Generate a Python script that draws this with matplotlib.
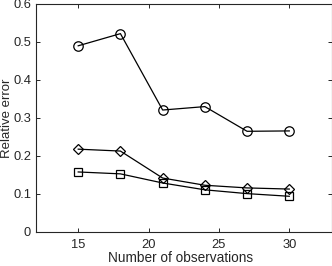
import matplotlib
matplotlib.use("Agg")
import matplotlib.pyplot as plt

x_obs = [15, 18, 21, 24, 27, 30]
err_circle = [0.490, 0.522, 0.321, 0.330, 0.265, 0.266]
err_diamond = [0.218, 0.213, 0.142, 0.123, 0.116, 0.113]
err_square = [0.158, 0.153, 0.129, 0.111, 0.101, 0.094]
xticks = [15, 20, 25, 30]
yticks = [0, 0.1, 0.2, 0.3, 0.4, 0.5, 0.6]
ytick_labels = ["0", "0.1", "0.2", "0.3", "0.4", "0.5", "0.6"]

plt.rcParams['font.family'] = ['Liberation Sans', 'DejaVu Sans']
fig = plt.figure(figsize=(3.32, 2.66), dpi=100)
ax = fig.add_axes([36/332, 1 - 232/266, (331.5-36)/332, (232-4)/266])

style = dict(color='black', lw=0.9, markerfacecolor='none', markeredgecolor='black',
             markeredgewidth=0.9)
ax.plot(x_obs, err_circle, marker='o', ms=6.8, **style)
ax.plot(x_obs, err_diamond, marker='D', ms=5.6, **style)
ax.plot(x_obs, err_square, marker='s', ms=5.8, **style)

ax.set_xlim(12, 33)
ax.set_ylim(0, 0.6)
ax.set_xticks(xticks)
ax.set_yticks(yticks)
ax.set_yticklabels(ytick_labels)
ax.tick_params(direction='in', top=True, right=True, labelsize=9.3, length=3,
               width=0.7, colors='#262626')
ax.tick_params(axis='y', pad=3.5)
ax.tick_params(axis='x', pad=5)
for s in ax.spines.values():
    s.set_linewidth(0.8)
    s.set_color('#262626')
ax.set_xlabel('Number of observations', fontsize=9.8, color='#262626')
ax.set_ylabel('Relative error', fontsize=9.5, color='#262626')
ax.xaxis.set_label_coords(0.49, -0.085)
ax.yaxis.set_label_coords(-0.078, 0.5)

fig.savefig('out.png', dpi=100)
